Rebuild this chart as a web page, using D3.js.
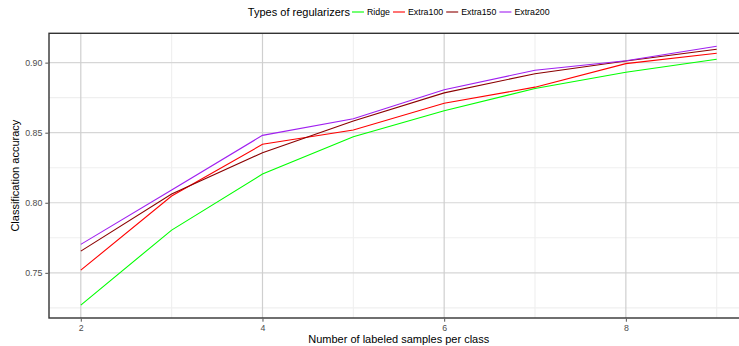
<!DOCTYPE html>
<html>
<head>
<meta charset="utf-8">
<script src="https://cdn.jsdelivr.net/npm/d3@7"></script>
<style>
  html, body { margin: 0; padding: 0; background: #ffffff; overflow: hidden; }
  svg { display: block; font-family: "Liberation Sans", Arial, Helvetica, sans-serif; }
</style>
</head>
<body>
<svg id="chart" width="739" height="346"></svg>
<script>
// Number of labeled samples per class
const samples = [2, 3, 4, 5, 6, 7, 8, 9];

// Classification accuracy for each regularizer
const ridge    = [0.727, 0.7805, 0.8205, 0.8471, 0.8657, 0.8815, 0.8931, 0.9024];
const extra100 = [0.7519, 0.8048, 0.8417, 0.8519, 0.8710, 0.8825, 0.8993, 0.9067];
const extra150 = [0.7655, 0.8062, 0.8357, 0.8584, 0.8784, 0.8921, 0.9012, 0.9096];
const extra200 = [0.7703, 0.8091, 0.8481, 0.8600, 0.8807, 0.8946, 0.9014, 0.9117];

const seriesNames  = ["Ridge", "Extra100", "Extra150", "Extra200"];
const seriesColors = ["#00ff00", "#ff0000", "#8b0000", "#a020f0"];

const xTicks = [2, 4, 6, 8];
const xMinor = [3, 5, 7, 9];
const yTicks = [0.75, 0.80, 0.85, 0.90];
const yMinor = [0.725, 0.775, 0.825, 0.875];

const legendTitle = "Types of regularizers";
const xTitle = "Number of labeled samples per class";
const yTitle = "Classification accuracy";

const series = [ridge, extra100, extra150, extra200].map((vals, i) => ({
  name: seriesNames[i],
  color: seriesColors[i],
  points: vals.map((v, j) => ({ x: samples[j], y: v }))
}));

const svg = d3.select("#chart");

// panel extends a little beyond the right edge of the canvas
const panel = { left: 49, right: 748.5, top: 33.3, bottom: 318 };

function expand(ext, f) {
  const d = (ext[1] - ext[0]) * f;
  return [ext[0] - d, ext[1] + d];
}

const x = d3.scaleLinear()
  .domain(expand(d3.extent(samples), 0.05))
  .range([panel.left, panel.right]);

const allY = series.flatMap(s => s.points.map(p => p.y));
const y = d3.scaleLinear()
  .domain(expand(d3.extent(allY), 0.05))
  .range([panel.bottom, panel.top]);

const g = svg.append("g");

// minor grid
g.append("g").selectAll("line").data(yMinor).join("line")
  .attr("x1", panel.left).attr("x2", panel.right)
  .attr("y1", d => y(d)).attr("y2", d => y(d))
  .attr("stroke", "#efefef").attr("stroke-width", 1.1);
g.append("g").selectAll("line").data(xMinor).join("line")
  .attr("x1", d => x(d)).attr("x2", d => x(d))
  .attr("y1", panel.top).attr("y2", panel.bottom)
  .attr("stroke", "#efefef").attr("stroke-width", 1.1);

// major grid
g.append("g").selectAll("line").data(yTicks).join("line")
  .attr("x1", panel.left).attr("x2", panel.right)
  .attr("y1", d => y(d)).attr("y2", d => y(d))
  .attr("stroke", "#d6d6d6").attr("stroke-width", 1.2);
g.append("g").selectAll("line").data(xTicks).join("line")
  .attr("x1", d => x(d)).attr("x2", d => x(d))
  .attr("y1", panel.top).attr("y2", panel.bottom)
  .attr("stroke", "#cfcfcf").attr("stroke-width", 1.2);

// series lines
const line = d3.line().x(d => x(d.x)).y(d => y(d.y));
g.append("g").selectAll("path").data(series).join("path")
  .attr("d", d => line(d.points))
  .attr("fill", "none")
  .attr("stroke", d => d.color)
  .attr("stroke-width", 1.1);

// panel border
g.append("rect")
  .attr("x", panel.left).attr("y", panel.top)
  .attr("width", panel.right - panel.left)
  .attr("height", panel.bottom - panel.top)
  .attr("fill", "none")
  .attr("stroke", "#333333")
  .attr("stroke-width", 1.4);

// axes
const xAxis = d3.axisBottom(x).tickValues(xTicks).tickSize(3).tickPadding(3)
  .tickFormat(d3.format("d"));
const xg = svg.append("g").attr("transform", `translate(0,${panel.bottom + 0.7})`).call(xAxis);
const yAxis = d3.axisLeft(y).tickValues(yTicks).tickSize(3).tickPadding(3)
  .tickFormat(d3.format(".2f"));
const yg = svg.append("g").attr("transform", `translate(${panel.left - 0.7},0)`).call(yAxis);

[xg, yg].forEach(a => {
  a.select(".domain").remove();
  a.selectAll(".tick line").attr("stroke", "#555555").attr("stroke-width", 1);
  a.selectAll(".tick text")
    .attr("fill", "#4d4d4d")
    .style("font-size", "8.8px")
    .style("font-family", "'Liberation Sans', Arial, sans-serif");
});

// axis titles
svg.append("text")
  .attr("x", (panel.left + panel.right) / 2)
  .attr("y", 343)
  .attr("text-anchor", "middle")
  .attr("fill", "#000000")
  .style("font-size", "11px")
  .text(xTitle);

svg.append("text")
  .attr("transform", `translate(19,${(panel.top + panel.bottom) / 2}) rotate(-90)`)
  .attr("text-anchor", "middle")
  .attr("fill", "#000000")
  .style("font-size", "11px")
  .text(yTitle);

// legend across the top, centred over the panel
const legend = svg.append("g");
const titleText = legend.append("text")
  .attr("y", 16)
  .attr("fill", "#000000")
  .style("font-size", "11px")
  .text(legendTitle);

const items = series.map(s => {
  const key = legend.append("line")
    .attr("stroke", s.color).attr("stroke-width", 1.1);
  const label = legend.append("text")
    .attr("y", 15)
    .attr("fill", "#000000")
    .style("font-size", "8.8px")
    .text(s.name);
  return { key, label };
});

const keyW = 12, gapTitle = 2, gapKey = 3, gapItem = 3;
let total = titleText.node().getComputedTextLength() + gapTitle;
items.forEach(it => {
  total += keyW + gapKey + it.label.node().getComputedTextLength() + gapItem;
});
total -= gapItem;

let cx = (panel.left + panel.right) / 2 - total / 2;
titleText.attr("x", cx);
cx += titleText.node().getComputedTextLength() + gapTitle;
items.forEach(it => {
  it.key.attr("x1", cx).attr("x2", cx + keyW).attr("y1", 12).attr("y2", 12);
  cx += keyW + gapKey;
  it.label.attr("x", cx);
  cx += it.label.node().getComputedTextLength() + gapItem;
});
</script>
</body>
</html>
